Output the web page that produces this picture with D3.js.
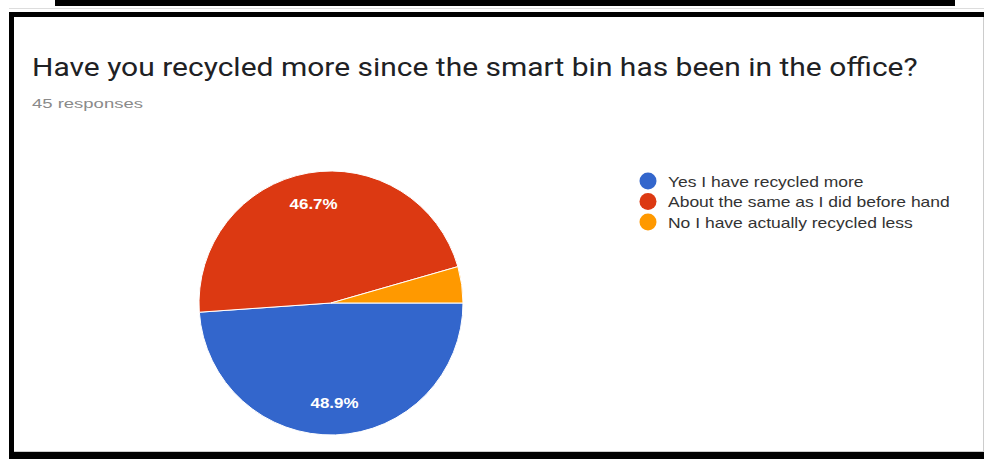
<!DOCTYPE html>
<html>
<head>
<meta charset="utf-8">
<script src="https://cdn.jsdelivr.net/npm/d3@7"></script>
<style>
body { margin: 0; background: #fff; }
text { font-family: Roboto, "Liberation Sans", Arial, sans-serif; }
.small { font-family: "Liberation Sans", Arial, sans-serif; }
</style>
</head>
<body>
<svg id="pie_chart" width="984" height="459"></svg>
<script>
var categories = ["Yes I have recycled more", "About the same as I did before hand", "No I have actually recycled less"];
var counts = [22, 21, 2];
var colors = ["#3366cc", "#dc3912", "#ff9900"];
var title_text = "Have you recycled more since the smart bin has been in the office?";
var sub_text = "45 responses";

// squeeze/stretch a text sideways so it is as wide as in the screenshot
function stretch(sel, x, y, target) {
	var w = sel.node().getComputedTextLength();
	var sx = target / w;
	sel.attr("x", 0).attr("y", 0)
		.attr("transform", `translate(${x},${y}) scale(${sx},1)`);
}

function pie_chart() {
	var svg = d3.select("#pie_chart"),
		width = +svg.attr("width"),
		height = +svg.attr("height");

	var data = categories.map((c, i) => ({"Category": c, "Value": counts[i]}));
	var total = d3.sum(counts);

	// frame round the screenshot
	svg.append("rect").attr("x", 0).attr("y", 0).attr("width", width).attr("height", height).attr("fill", "#fff");
	svg.append("rect").attr("x", 55).attr("y", 0).attr("width", 900).attr("height", 6).attr("fill", "#000");
	svg.append("line").attr("x1", 9).attr("x2", width).attr("y1", 8.5).attr("y2", 8.5).attr("stroke", "#ddd");
	svg.append("rect").attr("x", 9).attr("y", 12).attr("width", width).attr("height", 5).attr("fill", "#000");
	svg.append("rect").attr("x", 9).attr("y", 12).attr("width", 5).attr("height", height).attr("fill", "#000");
	svg.append("rect").attr("x", 9).attr("y", 452).attr("width", width).attr("height", 7).attr("fill", "#000");
	svg.append("line").attr("x1", 14).attr("x2", width).attr("y1", 451.5).attr("y2", 451.5).attr("stroke", "#ccc");
	svg.append("line").attr("x1", 983.5).attr("x2", 983.5).attr("y1", 17).attr("y2", 452).attr("stroke", "#ccc");

	var title = svg.append("text")
		.attr("class", "title")
		.style("font-size", "25.5px")
		.attr("fill", "#202124")
		.text(title_text);
	stretch(title, 32, 76, 886);

	var sub = svg.append("text")
		.attr("class", "small")
		.style("font-size", "13.5px")
		.attr("fill", "#8a8a8a")
		.text(sub_text);
	stretch(sub, 32, 108, 111);

	var cx = 331, cy = 303, r = 132;

	var pie = d3.pie()
		.sort(null)
		.value(d => d.Value)
		.startAngle(Math.PI / 2)
		.endAngle(Math.PI / 2 + 2 * Math.PI);

	var arc = d3.arc().innerRadius(0).outerRadius(r);
	var labelArc = d3.arc().innerRadius(r * 0.76).outerRadius(r * 0.76);

	var g = svg.append("g").attr("transform", `translate(${cx},${cy})`);

	g.selectAll(".slice")
		.data(pie(data))
		.enter().append("path")
		.attr("class", "slice")
		.attr("d", arc)
		.attr("fill", (d, i) => colors[i])
		.attr("stroke", "#fff")
		.attr("stroke-width", 1);

	g.selectAll(".labels")
		.data(pie(data).filter(d => d.data.Value / total > 0.05))
		.enter().append("text")
		.attr("class", "labels small")
		.attr("text-anchor", "middle")
		.attr("fill", "#fff")
		.style("font-size", "14.5px")
		.style("font-weight", "bold")
		.text(d => (d.data.Value / total * 100).toFixed(1) + "%")
		.each(function(d) {
			var c = labelArc.centroid(d);
			stretch(d3.select(this), c[0], c[1] + 5, 48);
		});

	var legend = svg.selectAll(".legend")
		.data(data)
		.enter().append("g")
		.attr("class", "legend")
		.attr("transform", (d, i) => `translate(648,${181 + i * 20.5})`);

	legend.append("circle")
		.attr("r", 8.5)
		.attr("fill", (d, i) => colors[i]);

	var ltext = legend.append("text")
		.attr("class", "small")
		.style("font-size", "15px")
		.attr("fill", "#333")
		.text(d => d.Category);

	// one common stretch for the legend, taken from its longest entry
	var longest = d3.max(ltext.nodes(), n => n.getComputedTextLength());
	var lsx = 282 / longest;
	ltext.attr("transform", `translate(20,5.5) scale(${lsx},1)`);
}

pie_chart();
</script>
</body>
</html>
